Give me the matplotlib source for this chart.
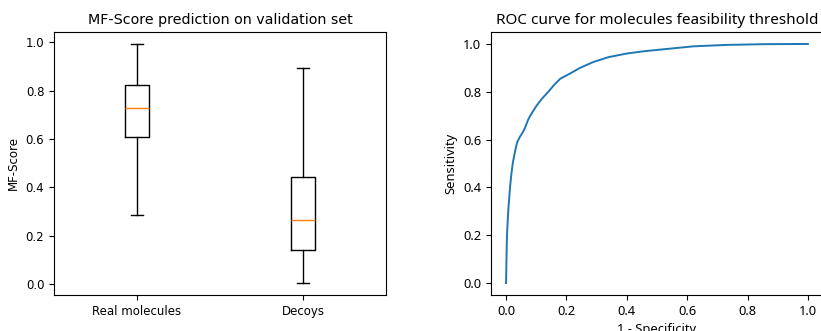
"""MF-Score boxplot + ROC curve, two panels."""
import matplotlib
matplotlib.use("Agg")
import matplotlib.pyplot as plt

# ── Data ───────────────────────────────────────────────────────────────────────
box_labels = ["Real molecules", "Decoys"]
whisker_lo = [0.285, 0.005]
q1 = [0.607, 0.143]
median = [0.730, 0.265]
q3 = [0.822, 0.444]
whisker_hi = [0.993, 0.895]

fpr = [0.0, 0.001, 0.002, 0.003, 0.005, 0.007, 0.010, 0.013, 0.017, 0.022,
       0.028, 0.033, 0.037, 0.045, 0.055, 0.063, 0.072, 0.080, 0.090, 0.100,
       0.118, 0.140, 0.160, 0.180, 0.210, 0.245, 0.290, 0.340, 0.400, 0.460,
       0.540, 0.620, 0.730, 0.850, 1.0]
tpr = [0.0, 0.08, 0.15, 0.20, 0.25, 0.30, 0.35, 0.40, 0.45, 0.50,
       0.54, 0.57, 0.59, 0.61, 0.63, 0.65, 0.68, 0.70, 0.72, 0.74,
       0.77, 0.80, 0.83, 0.855, 0.875, 0.90, 0.925, 0.945, 0.96, 0.97,
       0.98, 0.99, 0.996, 0.999, 1.0]

# ── Figure ─────────────────────────────────────────────────────────────────────
fig = plt.figure(figsize=(8.21, 3.31), dpi=100)
ax1 = fig.add_axes([54 / 821, 1 - 295 / 331, 332 / 821, 263 / 331])
ax2 = fig.add_axes([491 / 821, 1 - 295 / 331, 332 / 821, 263 / 331])

stats = []
for i, lab in enumerate(box_labels):
    stats.append(dict(label=lab, whislo=whisker_lo[i], q1=q1[i], med=median[i],
                      q3=q3[i], whishi=whisker_hi[i], fliers=[]))
ax1.bxp(stats, showfliers=False)
ax1.set_title("MF-Score prediction on validation set", fontsize=10.3)
ax1.set_ylabel("MF-Score", fontsize=8.5)
ax1.tick_params(labelsize=8.5)

NOTO = "Noto Sans"
ax2.plot(fpr, tpr, color="#1f77b4", lw=1.4)
ax2.set_title("ROC curve for molecules feasibility threshold", fontsize=11,
              family=NOTO)
ax2.set_xlabel("1 - Specificity", fontsize=9.3, family=NOTO)
ax2.set_ylabel("Sensitivity", fontsize=9.3, family=NOTO)
ax2.tick_params(labelsize=9.3)
for t in ax2.get_xticklabels() + ax2.get_yticklabels():
    t.set_family(NOTO)

fig.savefig("out.png", dpi=100)
